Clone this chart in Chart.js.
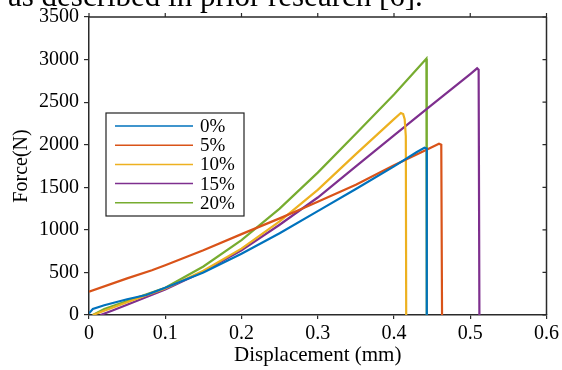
<!DOCTYPE html>
<html>
<head>
<meta charset="utf-8">
<script src="https://cdn.jsdelivr.net/npm/chart.js@4/dist/chart.umd.min.js"></script>
<style>
  html, body { margin: 0; padding: 0; background: #fff; overflow: hidden; }
  #wrap { position: relative; width: 562px; height: 370px; }
  #cap { position: absolute; left: 8px; top: -20px; font: 31px/31px "Liberation Serif", "Times New Roman", serif; color: #000; white-space: nowrap; }
  canvas { position: absolute; left: 0; top: 0; }
</style>
</head>
<body>
<div id="wrap">
  <canvas id="c" width="562" height="370"></canvas>
  <div id="cap">as described in prior research [6].</div>
</div>
<script>
// ---- data ----
const seriesLabels = ['0%', '5%', '10%', '15%', '20%'];
const seriesColors = ['#0072BD', '#D95319', '#EDB120', '#7E2F8E', '#77AC30'];

const disp0  = [0, 0.005, 0.02, 0.05, 0.075, 0.1, 0.15, 0.2, 0.25, 0.3, 0.35, 0.4, 0.43, 0.44, 0.443, 0.443];
const force0 = [20, 70, 115, 185, 235, 320, 500, 720, 960, 1220, 1480, 1745, 1915, 1964, 1955, 0];

const disp5  = [0, 0.05, 0.0825, 0.1, 0.15, 0.2, 0.25, 0.28, 0.3, 0.35, 0.4, 0.44, 0.459, 0.462, 0.463];
const force5 = [275, 430, 525, 585, 760, 950, 1135, 1250, 1330, 1530, 1760, 1930, 2012, 2000, 0];

const disp10  = [0.005, 0.02, 0.05, 0.1, 0.15, 0.2, 0.25, 0.3, 0.35, 0.4, 0.409, 0.412, 0.414, 0.4155, 0.416];
const force10 = [0, 50, 150, 310, 520, 780, 1100, 1470, 1890, 2300, 2372, 2360, 2300, 2100, 0];

const disp15  = [0.015, 0.03, 0.05, 0.1, 0.15, 0.2, 0.25, 0.3, 0.35, 0.4, 0.45, 0.5, 0.509, 0.511, 0.512];
const force15 = [0, 50, 120, 300, 510, 760, 1060, 1380, 1745, 2110, 2470, 2830, 2897, 2880, 0];

const disp20  = [0.005, 0.02, 0.05, 0.1, 0.15, 0.2, 0.25, 0.3, 0.35, 0.4, 0.44, 0.4425, 0.443, 0.443];
const force20 = [0, 70, 165, 320, 570, 880, 1250, 1672, 2130, 2590, 2985, 3010, 3000, 0];

const xTickLabels = ['0', '0.1', '0.2', '0.3', '0.4', '0.5', '0.6'];
const yTickLabels = ['0', '500', '1000', '1500', '2000', '2500', '3000', '3500'];
// ---------------------------------------

const dispAll = [disp0, disp5, disp10, disp15, disp20];
const forceAll = [force0, force5, force10, force15, force20];

const SERIF = '"Liberation Serif", "Times New Roman", serif';
const AXIS = '#2a2a2a';

const datasets = seriesLabels.map((lab, i) => ({
  label: lab,
  data: dispAll[i].map((x, k) => ({ x: x, y: forceAll[i][k] })),
  borderColor: seriesColors[i],
  backgroundColor: seriesColors[i],
  borderWidth: 2.2,
  pointRadius: 0,
  showLine: true,
  fill: false,
  tension: 0,
}));

const framePlugin = {
  id: 'frame',
  afterDraw(chart) {
    const { ctx, chartArea: a, scales } = chart;
    ctx.save();
    ctx.strokeStyle = AXIS;
    ctx.lineWidth = 1.5;
    ctx.beginPath();
    ctx.moveTo(a.left, a.top); ctx.lineTo(a.right, a.top);
    ctx.moveTo(a.right, a.top); ctx.lineTo(a.right, a.bottom);
    ctx.stroke();
    ctx.lineWidth = 1.2;
    ctx.beginPath();
    scales.x.ticks.forEach(t => {
      const px = scales.x.getPixelForValue(t.value);
      ctx.moveTo(px, a.top); ctx.lineTo(px, a.top - 4);
    });
    scales.y.ticks.forEach(t => {
      const py = scales.y.getPixelForValue(t.value);
      ctx.moveTo(a.right, py); ctx.lineTo(a.right - 4, py);
    });
    ctx.stroke();

    // legend box inside plot
    const lx = 106, ly = 113, lw = 138, lh = 103;
    ctx.fillStyle = '#fff';
    ctx.fillRect(lx, ly, lw, lh);
    ctx.strokeStyle = '#222';
    ctx.lineWidth = 1.2;
    ctx.strokeRect(lx, ly, lw, lh);
    ctx.font = '19px ' + SERIF;
    ctx.textBaseline = 'middle';
    chart.data.datasets.forEach((ds, i) => {
      const y = 126 + i * 19.2;
      ctx.strokeStyle = ds.borderColor;
      ctx.lineWidth = 1.5;
      ctx.beginPath();
      ctx.moveTo(115, y); ctx.lineTo(193, y);
      ctx.stroke();
      ctx.fillStyle = '#000';
      ctx.fillText(ds.label, 200, y + 1);
    });
    ctx.restore();
  }
};

new Chart(document.getElementById('c'), {
  type: 'scatter',
  data: { datasets },
  plugins: [framePlugin],
  options: {
    responsive: false,
    animation: false,
    layout: { padding: { top: 15, right: 12, left: 0, bottom: 0 } },
    plugins: { legend: { display: false }, tooltip: { enabled: false } },
    scales: {
      x: {
        type: 'linear', min: 0, max: 0.6,
        afterFit(s) { s.height = 55; },
        border: { display: true, color: AXIS, width: 1.5 },
        grid: { drawOnChartArea: false, drawTicks: true, tickLength: 4, color: AXIS, lineWidth: 1.2 },
        ticks: {
          stepSize: 0.1, color: '#000', padding: 3,
          font: { family: SERIF, size: 20 },
          callback: (v) => xTickLabels[Math.round(v * 10)]
        },
        title: { display: true, text: 'Displacement (mm)', color: '#000', font: { family: SERIF, size: 21 }, padding: { top: 0, bottom: 2 } }
      },
      y: {
        type: 'linear', min: 0, max: 3500,
        afterFit(s) { s.width = 89; },
        border: { display: true, color: AXIS, width: 1.5 },
        grid: { drawOnChartArea: false, drawTicks: true, tickLength: 5, color: AXIS, lineWidth: 1.2 },
        ticks: {
          stepSize: 500, color: '#000', padding: 5,
          font: { family: SERIF, size: 20 },
          callback: (v) => yTickLabels[Math.round(v / 500)]
        },
        title: { display: true, text: 'Force(N)', color: '#000', font: { family: SERIF, size: 20 }, padding: { top: 10, bottom: 0 } }
      }
    }
  }
});
</script>
</body>
</html>
